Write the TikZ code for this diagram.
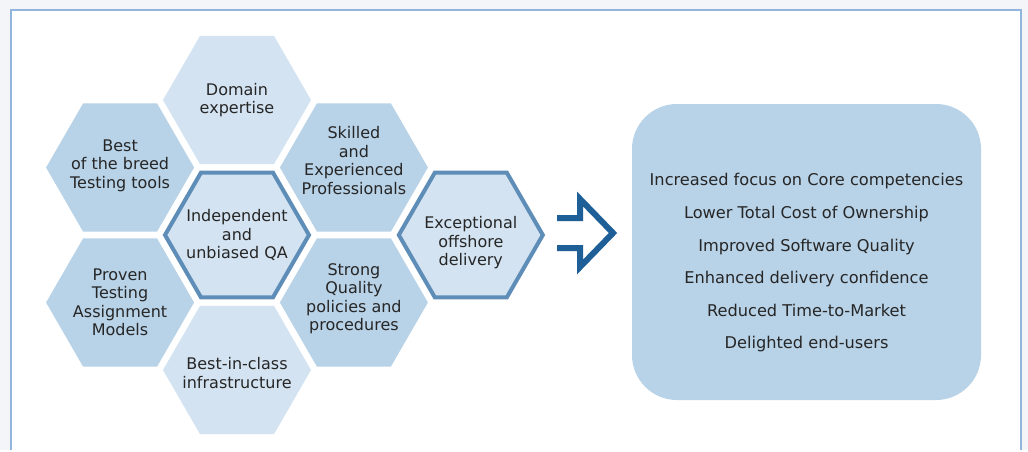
\documentclass[tikz,border=0pt]{standalone}
\usepackage{fontspec}
\setmainfont{DejaVu Sans}
\usepackage{tikz}
\usetikzlibrary{shapes.geometric, positioning, calc}
\definecolor{hexLight}{HTML}{D3E3F1}
\definecolor{hexDark}{HTML}{B8D2E7}
\definecolor{hexEdge}{HTML}{5E8DB8}
\definecolor{arrowBlue}{HTML}{1D5F96}
\definecolor{frameBlue}{HTML}{92B5DE}
\definecolor{pageGray}{HTML}{F3F5F8}
\colorlet{textColor}{black!85}
\tikzstyle{hexLightBox}=[regular polygon, regular polygon sides=6, minimum size=148pt,
inner sep=0pt, fill=hexLight]
\tikzstyle{hexDarkBox}=[regular polygon, regular polygon sides=6, minimum size=148pt,
inner sep=0pt, fill=hexDark]
\tikzstyle{hexRim}=[regular polygon, regular polygon sides=6, minimum size=144pt,
inner sep=0pt, fill=hexLight, draw=hexEdge, line width=4pt]
\tikzstyle{hexText}=[align=center, text=textColor, inner sep=0pt,
font=\fontsize{16}{18.5}\selectfont]
\tikzstyle{benefitBox}=[rectangle, rounded corners=45pt, fill=hexDark,
minimum width=349pt, minimum height=296pt]
\tikzstyle{benefitText}=[align=center, text=textColor, inner sep=0pt,
font=\fontsize{16.2}{32.6}\selectfont]
\tikzstyle{bigArrow}=[draw=arrowBlue, line width=6pt, miter limit=10]

\begin{document}
\begin{tikzpicture}[x=1pt, y=1pt]
      % page and frame
      \fill[pageGray] (0,0) rectangle (1028,450);
      \fill[white] (11,0) rectangle (1021,440);
      \draw[frameBlue, line width=2pt] (11,0) |- (1021,440) -- (1021,0);
      \useasboundingbox (0,0) rectangle (1028,450);
      % honeycomb
      \node(indep) [hexRim] at (237,215) {};
      \node(domain) [hexLightBox] at ($(indep)+(90:135)$) {};
      \node(bestin) [hexLightBox] at ($(indep)+(270:135)$) {};
      \node(best) [hexDarkBox] at ($(indep)+(150:135)$) {};
      \node(proven) [hexDarkBox] at ($(indep)+(210:135)$) {};
      \node(skilled) [hexDarkBox] at ($(indep)+(30:135)$) {};
      \node(strong) [hexDarkBox] at ($(indep)+(-30:135)$) {};
      \node(except) [hexRim] at ($(skilled)+(-30:135)$) {};
      % labels
      \node(indepLbl) [hexText] at (indep) {Independent\\and\\unbiased QA};
      \node(domainLbl) [hexText] at (domain) {Domain\\expertise};
      \node(bestinLbl) [hexText, yshift=-3pt] at (bestin) {Best-in-class\\infrastructure};
      \node(bestLbl) [hexText, yshift=2pt] at (best) {Best\\of the breed\\Testing tools};
      \node(provenLbl) [hexText] at (proven) {Proven\\Testing\\Assignment\\Models};
      \node(skilledLbl) [hexText, yshift=7pt] at (skilled) {Skilled\\and\\Experienced\\Professionals};
      \node(strongLbl) [hexText, yshift=4pt] at (strong) {Strong\\Quality\\policies and\\procedures};
      \node(exceptLbl) [hexText, yshift=-8pt] at (except) {Exceptional\\offshore\\delivery};
      % benefits
      \node(benefits) [benefitBox] at (806.5,198) {};
      \node(benefitsLbl) [benefitText, yshift=-11pt] at (benefits)
      {Increased focus on Core competencies\\Lower Total Cost of Ownership\\
      Improved Software Quality\\Enhanced delivery confidence\\
      Reduced Time-to-Market\\Delighted end-users};
      % arrow between them
      \coordinate(arrowTip) at (613,217);
      \draw [bigArrow] ($(arrowTip)+(-56,15)$) -- ++(23,0) -- ++(0,19)
      -- (arrowTip) -- ++(-33,-34) -- ++(0,19) -- ++(-23,0);
    \end{tikzpicture}
\end{document}
